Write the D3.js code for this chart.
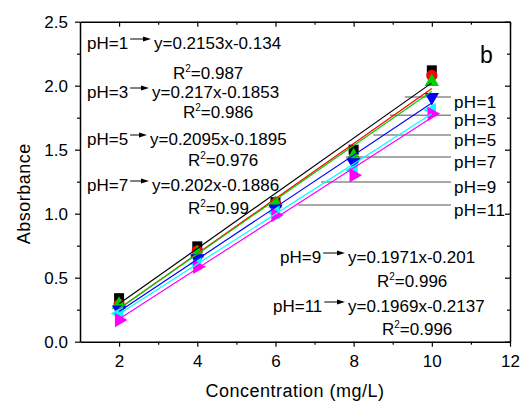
<!DOCTYPE html>
<html>
<head>
<meta charset="utf-8">
<script src="https://cdn.jsdelivr.net/npm/d3@7"></script>
<style>
  body { margin: 0; background: #fff; }
  text { font-family: Arial, "Liberation Sans", sans-serif; }
</style>
</head>
<body>
<div id="chart"></div>
<script>
// data
const concentration = [2, 4, 6, 8, 10];
const phLabels = ["pH=1", "pH=3", "pH=5", "pH=7", "pH=9", "pH=11"];
const absPH1 = [0.34, 0.745, 1.09, 1.50, 2.12];
const absPH3 = [0.29, 0.71, 1.08, 1.43, 2.08];
const absPH5 = [0.29, 0.69, 1.08, 1.45, 2.03];
const absPH7 = [0.25, 0.65, 1.04, 1.40, 1.91];
const absPH9 = [0.22, 0.61, 1.01, 1.34, 1.81];
const absPH11 = [0.17, 0.585, 0.99, 1.30, 1.78];
const slopes = ["0.2153", "0.217", "0.2095", "0.202", "0.1971", "0.1969"];
const intercepts = ["0.134", "0.1853", "0.1895", "0.1886", "0.201", "0.2137"];
const rSquared = ["0.987", "0.986", "0.976", "0.99", "0.996", "0.996"];
const xTicks = [2, 4, 6, 8, 10, 12];
const yTicks = [0.0, 0.5, 1.0, 1.5, 2.0, 2.5];

const series = [absPH1, absPH3, absPH5, absPH7, absPH9, absPH11];
const colors = ["#000000", "#ff0000", "#00d000", "#0000ff", "#00ffff", "#ff00ff"];
const shapes = [
  {type: d3.symbolSquare, rot: 0, size: 100},
  {type: d3.symbolCircle, rot: 0, size: 100},
  {type: d3.symbolTriangle, rot: 0, size: 90},
  {type: d3.symbolTriangle, rot: 180, size: 90},
  {type: d3.symbolTriangle, rot: -90, size: 90},
  {type: d3.symbolTriangle, rot: 90, size: 90}
];

const width = 521, height = 403;
const plotLeft = 80, plotRight = 510, plotTop = 21.7, plotBottom = 341.7;

const svg = d3.select("#chart").append("svg")
  .attr("width", width).attr("height", height);

const x = d3.scaleLinear().domain([1, 12]).range([plotLeft, plotRight]);
const y = d3.scaleLinear().domain([0, 2.5]).range([plotBottom, plotTop]);

const xMinor = d3.range(3, 12, 2);
const yMinor = d3.range(0.25, 2.5, 0.5);

function styleAxis(g) {
  g.selectAll("path").attr("stroke", "#000").attr("stroke-width", 1.5);
  g.selectAll("line").attr("stroke", "#000").attr("stroke-width", 1.2);
  g.selectAll("text").attr("font-size", 17).attr("fill", "#000")
    .style("font-family", "Arial, 'Liberation Sans', sans-serif");
}

// bottom
svg.append("g").attr("transform", `translate(0,${plotBottom})`)
  .call(d3.axisBottom(x).tickValues(xTicks).tickSize(5).tickSizeOuter(0).tickPadding(8))
  .call(styleAxis);
svg.append("g").attr("transform", `translate(0,${plotBottom})`)
  .call(d3.axisBottom(x).tickValues(xMinor).tickSize(3).tickFormat(""))
  .call(g => g.select(".domain").remove()).call(styleAxis);
// left
svg.append("g").attr("transform", `translate(${plotLeft},0)`)
  .call(d3.axisLeft(y).tickValues(yTicks).tickFormat(d3.format(".1f")).tickSize(5).tickSizeOuter(0).tickPadding(7))
  .call(styleAxis);
svg.append("g").attr("transform", `translate(${plotLeft},0)`)
  .call(d3.axisLeft(y).tickValues(yMinor).tickSize(3).tickFormat(""))
  .call(g => g.select(".domain").remove()).call(styleAxis);
// top
svg.append("g").attr("transform", `translate(0,${plotTop})`)
  .call(d3.axisTop(x).tickValues(xTicks).tickSize(-5).tickSizeOuter(0).tickFormat(""))
  .call(styleAxis);
svg.append("g").attr("transform", `translate(0,${plotTop})`)
  .call(d3.axisTop(x).tickValues(xMinor).tickSize(-3).tickFormat(""))
  .call(g => g.select(".domain").remove()).call(styleAxis);
// right
svg.append("g").attr("transform", `translate(${plotRight},0)`)
  .call(d3.axisRight(y).tickValues(yTicks).tickSize(-5).tickSizeOuter(0).tickFormat(""))
  .call(styleAxis);
svg.append("g").attr("transform", `translate(${plotRight},0)`)
  .call(d3.axisRight(y).tickValues(yMinor).tickSize(-3).tickFormat(""))
  .call(g => g.select(".domain").remove()).call(styleAxis);

// axis titles
svg.append("text").attr("x", (plotLeft + plotRight) / 2).attr("y", 397)
  .attr("text-anchor", "middle").attr("font-size", 18).attr("letter-spacing", 0.5)
  .text("Concentration (mg/L)");
svg.append("text").attr("transform", `translate(30,${(plotTop + plotBottom) / 2 + 12}) rotate(-90)`)
  .attr("text-anchor", "middle").attr("font-size", 18).attr("letter-spacing", 0.5)
  .text("Absorbance");

svg.append("text").attr("x", 480).attr("y", 63).attr("font-size", 23).text("b");

// right-side label leaders (value positions)
const leaderY = [1.912, 1.770, 1.615, 1.443, 1.248, 1.068];
const leaderX0 = [9.31, 8.93, 8.50, 7.80, 7.17, 6.58];
const leaderX1 = 10.49;
phLabels.forEach((lab, i) => {
  svg.append("line")
    .attr("x1", x(leaderX0[i])).attr("x2", x(leaderX1))
    .attr("y1", y(leaderY[i])).attr("y2", y(leaderY[i]))
    .attr("stroke", "#8c8c8c").attr("stroke-width", 1.5);
  svg.append("text").attr("x", x(leaderX1) + 3).attr("y", y(leaderY[i]) + 11)
    .attr("font-size", 17).attr("letter-spacing", 0.4).text(lab);
});

// markers
series.forEach((vals, i) => {
  const sym = d3.symbol().type(shapes[i].type).size(shapes[i].size);
  svg.append("g").selectAll("path")
    .data(vals)
    .join("path")
    .attr("d", sym)
    .attr("transform", (d, j) => `translate(${x(concentration[j])},${y(d)}) rotate(${shapes[i].rot})`)
    .attr("fill", colors[i]);
});

// least-squares fit lines through each series
series.forEach((vals, i) => {
  const mx = d3.mean(concentration), my = d3.mean(vals);
  const sxy = d3.sum(concentration, (c, j) => (c - mx) * (vals[j] - my));
  const sxx = d3.sum(concentration, c => (c - mx) * (c - mx));
  const b = sxy / sxx, a = my - b * mx;
  const ends = d3.extent(concentration);
  svg.append("path")
    .datum(ends)
    .attr("d", d3.line().x(d => x(d)).y(d => y(a + b * d)))
    .attr("stroke", colors[i]).attr("stroke-width", 1.2).attr("fill", "none");
});

// equation annotations
const annot = [
  {lx: 87, ly: 49, ex: 154, rx: 173, ry: 79},
  {lx: 87, ly: 98, ex: 152, rx: 183, ry: 118},
  {lx: 87, ly: 145, ex: 150, rx: 188, ry: 166},
  {lx: 87, ly: 191, ex: 152, rx: 188, ry: 214},
  {lx: 280, ly: 263, ex: 348, rx: 377, ry: 287},
  {lx: 273, ly: 312, ex: 348, rx: 382, ry: 335}
];
annot.forEach((p, i) => {
  const lab = svg.append("text").attr("x", p.lx).attr("y", p.ly)
    .attr("font-size", 17).text(phLabels[i]);
  const lw = lab.node().getComputedTextLength();
  const ax0 = p.lx + lw + 2, ax1 = p.ex - 3, ay = p.ly - 10;
  svg.append("line").attr("x1", ax0).attr("x2", ax1 - 5).attr("y1", ay).attr("y2", ay)
    .attr("stroke", "#000").attr("stroke-width", 1);
  svg.append("path")
    .attr("d", `M${ax1},${ay} L${ax1 - 8},${ay - 2.5} L${ax1 - 8},${ay + 2.5} Z`)
    .attr("fill", "#000");
  svg.append("text").attr("x", p.ex).attr("y", p.ly).attr("font-size", 17)
    .text(`y=${slopes[i]}x-${intercepts[i]}`);
  const r = svg.append("text").attr("x", p.rx).attr("y", p.ry).attr("font-size", 17);
  r.append("tspan").text("R");
  r.append("tspan").attr("dy", -7).attr("font-size", 10).text("2");
  r.append("tspan").attr("dy", 7).text(`=${rSquared[i]}`);
});
</script>
</body>
</html>
